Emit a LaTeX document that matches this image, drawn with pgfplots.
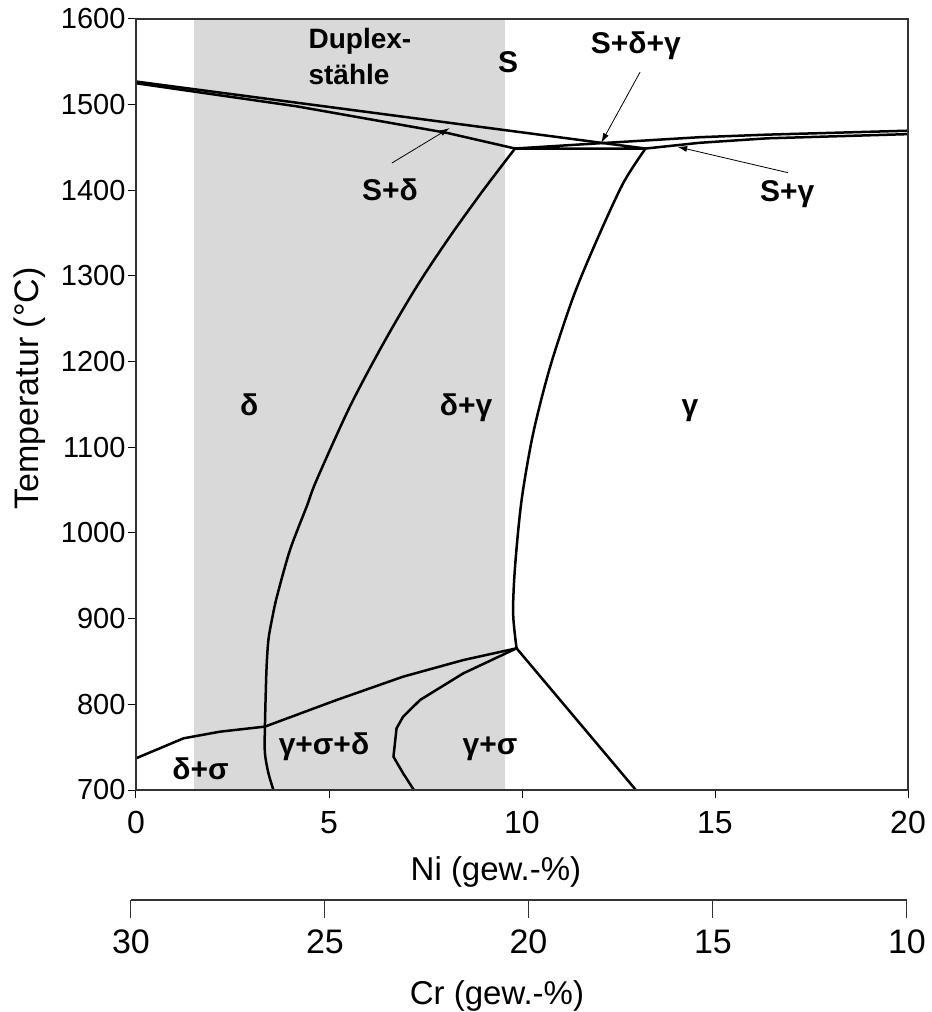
\documentclass[border=0pt]{standalone}
\usepackage{pgfplots}
\pgfplotsset{compat=1.18}
\usepackage{fontspec}
\setmainfont{Liberation Sans}
\usetikzlibrary{arrows.meta}
\definecolor{duplex}{RGB}{217,217,217}
\tikzset{phase/.style={black, line width=2.5bp, line join=round, line cap=round},
  arr/.style={black, line width=0.8bp, -{Latex[length=10bp,width=6bp]}},
  lab/.style={font=\fontsize{30bp}{34bp}\selectfont\bfseries},
  labd/.style={font=\fontsize{28bp}{32bp}\selectfont\bfseries}}
\begin{document}
\begin{tikzpicture}
\useasboundingbox (-136bp,-222bp) rectangle (796bp,790bp);
\begin{axis}[
  scale only axis, width=772bp, height=771bp,
  xmin=0, xmax=20, ymin=700, ymax=1600,
  xtick={0,5,...,20}, ytick={700,800,...,1600},
  tick align=outside, xtick pos=bottom, ytick pos=left,
  major tick length=8bp,
  tick style={black, line width=1bp},
  axis line style={black!80, line width=1.2bp},
  /pgf/number format/assume math mode=true,
  /pgf/number format/1000 sep={},
  xticklabel style={font=\fontsize{32bp}{38bp}\selectfont, yshift=-10bp},
  yticklabel style={font=\fontsize{29bp}{34bp}\selectfont, xshift=1bp},
  xlabel={Ni (gew.-\%)}, ylabel={Temperatur (°C)},
  xlabel style={font=\fontsize{33bp}{38bp}\selectfont, at={(axis description cs:0.4663,-0.1063)}, anchor=center},
  ylabel style={font=\fontsize{34bp}{40bp}\selectfont, at={(axis description cs:-0.1373,0.521)}, anchor=center},
  axis on top,
]
% duplex steel region
\addplot[fill=duplex, draw=none] coordinates {(1.5,700) (9.56,700) (9.56,1600) (1.5,1600)} -- cycle;
% liquidus delta
\addplot[phase] coordinates {(0,1527) (12.1,1455.2)};
% solidus delta
\addplot[phase] coordinates {(0,1525) (4.17,1498) (8.06,1467) (9.82,1448.8)};
% three-phase triangle
\addplot[phase] coordinates {(9.82,1448.8) (12.1,1455.2) (13.2,1448.8) (9.82,1448.8)};
% liquidus gamma
\addplot[phase] coordinates {(12.1,1455.2) (14.6,1462) (16.35,1465) (20,1469.6)};
% solidus gamma
\addplot[phase] coordinates {(13.2,1448.8) (14.61,1455.5) (16.35,1460.7) (20,1465.6)};
% delta / delta+gamma boundary
\addplot[phase, smooth, tension=0.5] coordinates {(9.82,1448.8) (9.00,1400.4) (8.13,1345.9) (7.27,1287.5) (6.41,1221.4) (5.54,1147.4) (4.68,1061.9) (4.42,1030.7) (3.99,980.2) (3.65,925.6) (3.52,898.5) (3.43,875.1) (3.38,840) (3.34,774) (3.34,743.2) (3.43,719.8) (3.56,700)};
% gamma boundary
\addplot[phase, smooth, tension=0.5] coordinates {(13.2,1448.8) (12.62,1408.2) (11.94,1342) (11.33,1275.8) (10.73,1194.1) (10.29,1116.4) (9.99,1038.5) (9.82,960.7) (9.77,906.3) (9.86,865.4)};
% delta+sigma boundary
\addplot[phase] coordinates {(0,737) (1.23,760.3) (2.18,768.1) (3.34,774)};
% junction to eutectoid point
\addplot[phase] coordinates {(3.34,774) (5.20,805.1) (6.92,832.3) (8.48,851.7) (9.86,865.4)};
% gamma+sigma boundary
\addplot[phase] coordinates {(9.86,865.4) (8.48,836.2) (7.36,805.1) (6.92,785.6) (6.75,772) (6.67,738.9) (6.92,719.5) (7.2,700)};
% gamma / gamma+sigma
\addplot[phase] coordinates {(9.86,865.4) (12.95,700)};
% arrows
\addplot[arr] coordinates {(6.63,1431.9) (8.13,1472.8)};
\addplot[arr] coordinates {(13.06,1538.1) (12.05,1455.2)};
\addplot[arr] coordinates {(16.89,1420.6) (14.02,1450.9)};
% labels
\node[labd, anchor=base west] at (axis cs:4.38,1565) {Duplex-};
\node[labd, anchor=base west] at (axis cs:4.38,1524.1) {stähle};
\node[lab, anchor=base] at (axis cs:9.64,1537) {S};
\node[lab, anchor=base] at (axis cs:12.95,1560.3) {S+δ+γ};
\node[lab, anchor=base] at (axis cs:6.58,1388.7) {S+δ};
\node[lab, anchor=base] at (axis cs:16.87,1386.4) {S+γ};
\node[lab, anchor=base] at (axis cs:2.93,1136.6) {δ};
\node[lab, anchor=base] at (axis cs:8.55,1136.6) {δ+γ};
\node[lab, anchor=base] at (axis cs:14.35,1136.6) {γ};
\node[lab, anchor=base] at (axis cs:4.87,740.9) {γ+σ+δ};
\node[lab, anchor=base] at (axis cs:1.67,712.8) {δ+σ};
\node[lab, anchor=base] at (axis cs:9.17,740.9) {γ+σ};
\end{axis}
\begin{axis}[
  at={(-5bp,-110bp)}, anchor=south west,
  scale only axis, width=776bp, height=1bp,
  x dir=reverse, xmin=10, xmax=30, ymin=0, ymax=1,
  axis x line*=bottom, hide y axis,
  axis line style={black!80, line width=1.2bp, -},
  xtick={30,25,19.755,15,10}, xticklabels={30,25,20,15,10},
  tick align=outside, major tick length=18bp,
  tick style={black!80, line width=1bp},
  xticklabel style={font=\fontsize{34bp}{40bp}\selectfont, anchor=base, yshift=-35bp},
  xlabel={Cr (gew.-\%)},
  xlabel style={font=\fontsize{33bp}{38bp}\selectfont, at={(axis description cs:0.4716,0)}, anchor=center, yshift=-96bp},
]
\end{axis}
\end{tikzpicture}
\end{document}
